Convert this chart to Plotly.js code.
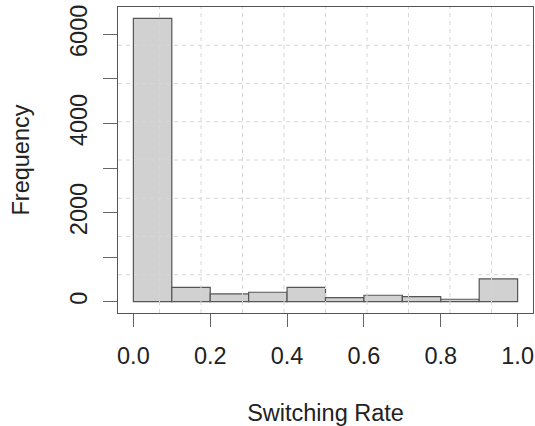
<!DOCTYPE html>
<html>
<head>
<meta charset="utf-8">
<script src="https://cdn.plot.ly/plotly-3.0.1.min.js"></script>
<style>html,body{margin:0;padding:0;background:#fff;}#chart{width:535px;height:426px;}</style>
</head>
<body>
<div id="chart"></div>
<script>
const binCenters = [0.05, 0.15, 0.25, 0.35, 0.45, 0.55, 0.65, 0.75, 0.85, 0.95];
const binWidth = 0.1;
const counts = [6360, 323, 173, 211, 320, 90, 144, 112, 54, 510];
const xTickVals = [0, 0.2, 0.4, 0.6, 0.8, 1.0];
const xTickText = ['0.0', '0.2', '0.4', '0.6', '0.8', '1.0'];
const yTickVals = [0, 1000, 2000, 3000, 4000, 5000, 6000];
const yTickText = ['0', '', '2000', '', '4000', '', '6000'];

const maxC = Math.max(...counts);
const font = "'Liberation Sans', Arial, sans-serif";
const fs = 23.5;

const shapes = [];
for (let k = 1; k < 10; k++) {
  shapes.push({type: 'line', xref: 'paper', yref: 'paper', x0: k / 10, x1: k / 10, y0: 0, y1: 1,
    line: {color: '#d6d6d6', width: 1, dash: '4px,4px'}, layer: 'above'});
}
for (let k = 1; k < 8; k++) {
  shapes.push({type: 'line', xref: 'paper', yref: 'paper', y0: k / 8, y1: k / 8, x0: 0, x1: 1,
    line: {color: '#d6d6d6', width: 1, dash: '4px,4px'}, layer: 'above'});
}

const trace = {
  type: 'bar',
  x: binCenters,
  y: counts,
  width: binCenters.map(() => binWidth),
  marker: {color: '#d1d1d1', line: {color: '#555555', width: 1.2}},
  hoverinfo: 'skip'
};

const layout = {
  width: 535, height: 426,
  margin: {l: 118, r: 2, t: 7, b: 113, pad: 0},
  paper_bgcolor: '#ffffff', plot_bgcolor: '#ffffff',
  showlegend: false,
  font: {family: font, color: '#222222'},
  shapes: shapes,
  xaxis: {
    range: [-0.04, 1.04],
    tickvals: xTickVals, ticktext: xTickText,
    ticks: 'outside', ticklen: 13, tickcolor: '#666666', tickwidth: 1,
    ticklabelstandoff: 9,
    showgrid: false, zeroline: false,
    showline: true, mirror: true, linecolor: '#555555', linewidth: 1,
    tickfont: {size: fs, family: font, color: '#222222'},
    title: {text: 'Switching Rate', font: {size: fs, family: font, color: '#222222'}, standoff: 36}
  },
  yaxis: {
    range: [-0.04 * maxC, 1.04 * maxC],
    tickvals: yTickVals, ticktext: yTickText,
    tickangle: -90,
    ticks: 'outside', ticklen: 14, tickcolor: '#666666', tickwidth: 1,
    ticklabelstandoff: 7,
    showgrid: false, zeroline: false,
    showline: true, mirror: true, linecolor: '#555555', linewidth: 1,
    tickfont: {size: fs, family: font, color: '#222222'},
    title: {text: 'Frequency', font: {size: fs, family: font, color: '#222222'}, standoff: 29}
  }
};

Plotly.newPlot('chart', [trace], layout, {displayModeBar: false, staticPlot: true});
</script>
</body>
</html>
